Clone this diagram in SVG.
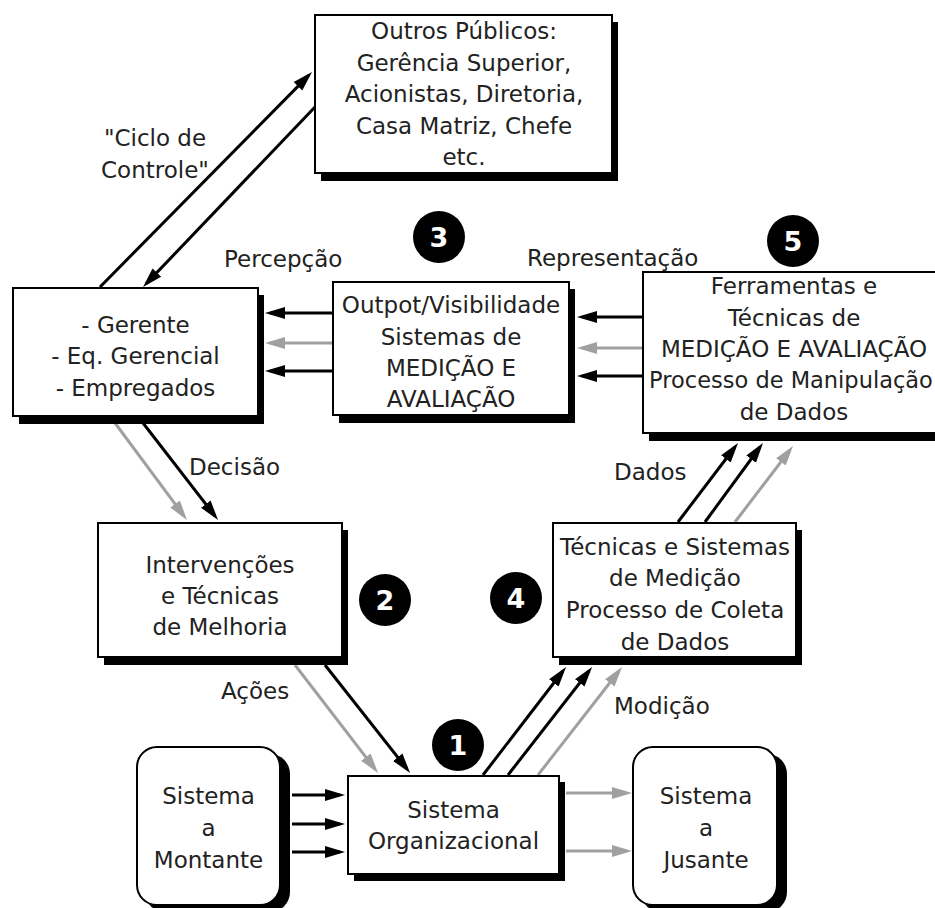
<svg xmlns="http://www.w3.org/2000/svg" width="935" height="908" viewBox="0 0 935 908">
  <style>
    .box { fill: #fff; stroke: #000; stroke-width: 2; }
    .shadow { fill: #000; }
    .t { font-family: "DejaVu Sans", Verdana, sans-serif; font-size: 23px; fill: #222; text-anchor: middle; }
    .lbl { font-family: "DejaVu Sans", Verdana, sans-serif; font-size: 23px; fill: #222; }
    .num { font-family: "DejaVu Sans", Verdana, sans-serif; font-size: 27px; font-weight: bold; fill: #fff; text-anchor: middle; }
    .blk { stroke: #000; stroke-width: 3; fill: none; }
    .gry { stroke: #a0a0a0; stroke-width: 3; fill: none; }
  </style>
  <defs>
    <marker id="ahB" markerUnits="userSpaceOnUse" markerWidth="21" markerHeight="14" refX="15" refY="7" orient="auto">
      <path d="M0,1 L20,7 L0,13 z" fill="#000"/>
    </marker>
    <marker id="ahG" markerUnits="userSpaceOnUse" markerWidth="21" markerHeight="14" refX="15" refY="7" orient="auto">
      <path d="M0,1 L20,7 L0,13 z" fill="#a0a0a0"/>
    </marker>
  </defs>
  <rect width="935" height="908" fill="#fff"/>

  <!-- connectors -->
  <g id="connectors">
    <!-- control cycle -->
    <line class="blk" x1="100" y1="287" x2="308.5" y2="75.6" marker-end="url(#ahB)"/>
    <line class="blk" x1="315" y1="107" x2="146.5" y2="283.4" marker-end="url(#ahB)"/>
    <!-- perception -->
    <line class="blk" x1="333" y1="313" x2="270" y2="313" marker-end="url(#ahB)"/>
    <line class="gry" x1="333" y1="343" x2="270" y2="343" marker-end="url(#ahG)"/>
    <line class="blk" x1="333" y1="371" x2="270" y2="371" marker-end="url(#ahB)"/>
    <!-- representation -->
    <line class="blk" x1="643" y1="317" x2="582" y2="317" marker-end="url(#ahB)"/>
    <line class="gry" x1="643" y1="348" x2="582" y2="348" marker-end="url(#ahG)"/>
    <line class="blk" x1="643" y1="376" x2="582" y2="376" marker-end="url(#ahB)"/>
    <!-- data -->
    <line class="blk" x1="678" y1="522" x2="735" y2="447" marker-end="url(#ahB)"/>
    <line class="blk" x1="705" y1="522" x2="760" y2="447" marker-end="url(#ahB)"/>
    <line class="gry" x1="735" y1="522" x2="790" y2="450" marker-end="url(#ahG)"/>
    <!-- measurement -->
    <line class="blk" x1="483" y1="775" x2="563" y2="671" marker-end="url(#ahB)"/>
    <line class="blk" x1="508" y1="775" x2="589" y2="671" marker-end="url(#ahB)"/>
    <line class="gry" x1="538" y1="775" x2="619" y2="671" marker-end="url(#ahG)"/>
    <!-- decision -->
    <line class="gry" x1="115" y1="423" x2="184" y2="516" marker-end="url(#ahG)"/>
    <line class="blk" x1="143" y1="423" x2="215" y2="516" marker-end="url(#ahB)"/>
    <!-- actions -->
    <line class="gry" x1="295" y1="665" x2="375" y2="769" marker-end="url(#ahG)"/>
    <line class="blk" x1="325" y1="665" x2="407" y2="769" marker-end="url(#ahB)"/>
    <!-- upstream inputs -->
    <line class="blk" x1="292" y1="795" x2="340" y2="795" marker-end="url(#ahB)"/>
    <line class="blk" x1="292" y1="824" x2="340" y2="824" marker-end="url(#ahB)"/>
    <line class="blk" x1="292" y1="852" x2="340" y2="852" marker-end="url(#ahB)"/>
    <!-- downstream outputs -->
    <line class="gry" x1="566" y1="793" x2="627" y2="793" marker-end="url(#ahG)"/>
    <line class="gry" x1="566" y1="851" x2="627" y2="851" marker-end="url(#ahG)"/>
  </g>

  <!-- nodes -->
  <g id="outros">
    <rect class="shadow" x="321" y="22" width="297" height="159"/>
    <rect class="box" x="315" y="15" width="297" height="158"/>
    <text class="t" x="464" y="39">Outros Públicos:</text>
    <text class="t" x="464" y="70.5">Gerência Superior,</text>
    <text class="t" x="464" y="102">Acionistas, Diretoria,</text>
    <text class="t" x="464" y="133.5">Casa Matriz, Chefe</text>
    <text class="t" x="464" y="165">etc.</text>
  </g>

  <g id="label-ciclo">
    <text class="t" x="155" y="146">"Ciclo de</text>
    <text class="t" x="155" y="178">Controle"</text>
  </g>

  <g id="gerente">
    <rect class="shadow" x="19" y="295" width="245" height="129"/>
    <rect class="box" x="13" y="288" width="245" height="128"/>
    <text class="t" x="135.5" y="333">- Gerente</text>
    <text class="t" x="135.5" y="364">- Eq. Gerencial</text>
    <text class="t" x="135.5" y="396">- Empregados</text>
  </g>

  <g id="outpot">
    <rect class="shadow" x="339" y="289" width="236" height="134"/>
    <rect class="box" x="333" y="282" width="236" height="133"/>
    <text class="t" x="451" y="313">Outpot/Visibilidade</text>
    <text class="t" x="451" y="345">Sistemas de</text>
    <text class="t" x="451" y="376">MEDIÇÃO E</text>
    <text class="t" x="451" y="407">AVALIAÇÃO</text>
  </g>

  <g id="ferramentas">
    <rect class="shadow" x="649" y="279" width="302" height="162"/>
    <rect class="box" x="643" y="272" width="302" height="161"/>
    <text class="t" x="794" y="294">Ferramentas e</text>
    <text class="t" x="794" y="326">Técnicas de</text>
    <text class="t" x="794" y="357">MEDIÇÃO E AVALIAÇÃO</text>
    <text class="t" x="791" y="388" style="font-size:22.5px">Processo de Manipulação</text>
    <text class="t" x="794" y="420">de Dados</text>
  </g>

  <g id="intervencoes">
    <rect class="shadow" x="104" y="530" width="244" height="135"/>
    <rect class="box" x="98" y="523" width="244" height="134"/>
    <text class="t" x="220" y="573">Intervenções</text>
    <text class="t" x="220" y="604">e Técnicas</text>
    <text class="t" x="220" y="635">de Melhoria</text>
  </g>

  <g id="tecnicas">
    <rect class="shadow" x="559" y="530" width="243" height="135"/>
    <rect class="box" x="553" y="523" width="243" height="134"/>
    <text class="t" x="675" y="555">Técnicas e Sistemas</text>
    <text class="t" x="675" y="586">de Medição</text>
    <text class="t" x="675" y="618">Processo de Coleta</text>
    <text class="t" x="675" y="650">de Dados</text>
  </g>

  <g id="organizacional">
    <rect class="shadow" x="354" y="782" width="211" height="99"/>
    <rect class="box" x="348" y="776" width="211" height="98"/>
    <text class="t" x="453.5" y="818">Sistema</text>
    <text class="t" x="453.5" y="849">Organizacional</text>
  </g>

  <g id="montante">
    <rect class="shadow" x="145" y="754" width="145" height="158" rx="20"/>
    <rect class="box" x="137" y="747" width="143" height="158" rx="20"/>
    <text class="t" x="208.5" y="804">Sistema</text>
    <text class="t" x="208.5" y="836">a</text>
    <text class="t" x="208.5" y="868">Montante</text>
  </g>

  <g id="jusante">
    <rect class="shadow" x="641" y="754" width="146" height="158" rx="20"/>
    <rect class="box" x="633" y="747" width="144" height="158" rx="20"/>
    <text class="t" x="706" y="804">Sistema</text>
    <text class="t" x="706" y="836">a</text>
    <text class="t" x="706" y="868">Jusante</text>
  </g>

  <!-- connector labels -->
  <g id="labels">
    <text class="lbl" x="224" y="267">Percepção</text>
    <text class="lbl" x="527" y="266">Representação</text>
    <text class="lbl" x="189" y="475">Decisão</text>
    <text class="lbl" x="221" y="699">Ações</text>
    <text class="lbl" x="614" y="480">Dados</text>
    <text class="lbl" x="614" y="714">Modição</text>
  </g>

  <!-- step markers -->
  <g id="step-1"><circle cx="458" cy="745" r="26"/><text class="num" x="458" y="755">1</text></g>
  <g id="step-2"><circle cx="385" cy="600" r="26"/><text class="num" x="385" y="610">2</text></g>
  <g id="step-3"><circle cx="439" cy="237" r="26"/><text class="num" x="439" y="247">3</text></g>
  <g id="step-4"><circle cx="516" cy="598" r="26"/><text class="num" x="516" y="608">4</text></g>
  <g id="step-5"><circle cx="793" cy="241" r="26"/><text class="num" x="793" y="251">5</text></g>
</svg>
